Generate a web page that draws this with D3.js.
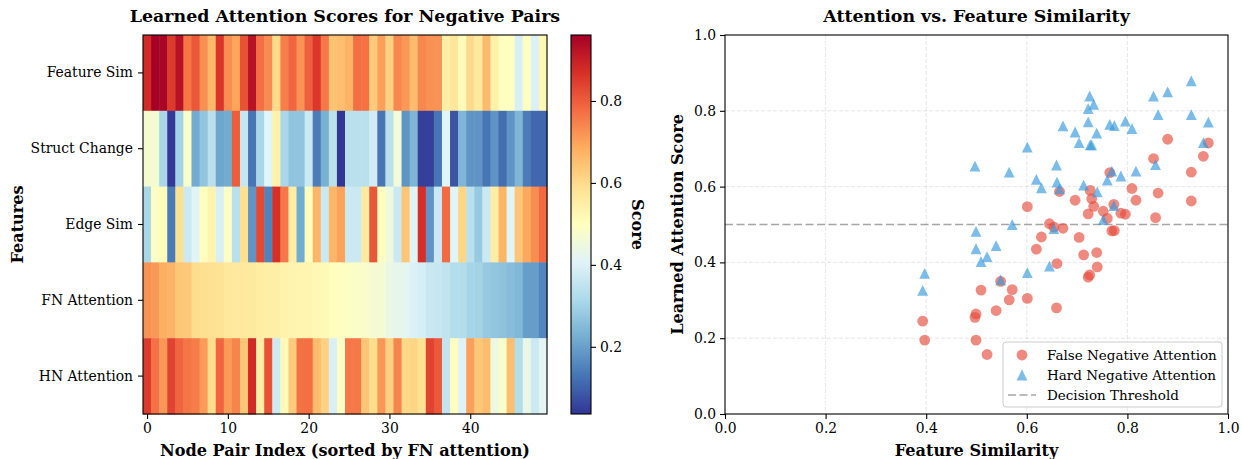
<!DOCTYPE html>
<html lang="en">
<head>
<meta charset="UTF-8">
<title>Attention scores</title>
<script src="https://cdn.jsdelivr.net/npm/d3@7"></script>
<style>
    body { margin: 0; background: #ffffff; }
    svg text { font-family: "DejaVu Serif", serif; fill: #000; }
    .tick text { font-size: 13.9px; font-family: "DejaVu Serif", serif; }
    .tick line, .domain { stroke: #000; stroke-width: 1.1px; }
</style>
</head>
<body>
<div id="chart"></div>
<script>
    var WIDTH = 1242;
    var HEIGHT = 459;

    // heatmap rows (top to bottom)
    var FEATURES = ["Feature Sim", "Struct Change", "Edge Sim", "FN Attention", "HN Attention"];

    // node pairs, already sorted by FN attention (descending)
    var featureSim = [0.880, 0.961, 0.951, 0.852, 0.927, 0.765, 0.809, 0.726, 0.665, 0.861,
                      0.729, 0.696, 0.817, 0.927, 0.773, 0.733, 0.601, 0.752, 0.787, 0.722,
                      0.796, 0.856, 0.760, 0.645, 0.654, 0.672, 0.774, 0.769, 0.629, 0.704,
                      0.619, 0.739, 0.713, 0.660, 0.740, 0.725, 0.722, 0.548, 0.571, 0.509,
                      0.601, 0.565, 0.659, 0.539, 0.499, 0.497, 0.393, 0.499, 0.397, 0.521];
    var structChange = [0.47, 0.47, 0.31, 0.04, 0.30, 0.48, 0.22, 0.27, 0.34, 0.21,
                        0.22, 0.80, 0.36, 0.13, 0.31, 0.41, 0.54, 0.31, 0.27, 0.27,
                        0.37, 0.14, 0.23, 0.34, 0.036, 0.34, 0.34, 0.34, 0.38, 0.13,
                        0.34, 0.46, 0.18, 0.24, 0.05, 0.05, 0.13, 0.41, 0.08, 0.24,
                        0.18, 0.18, 0.13, 0.18, 0.12, 0.18, 0.24, 0.14, 0.11, 0.11];
    var edgeSim = [0.31, 0.49, 0.51, 0.14, 0.59, 0.37, 0.41, 0.50, 0.53, 0.39,
                   0.49, 0.34, 0.59, 0.18, 0.83, 0.15, 0.87, 0.76, 0.55, 0.22,
                   0.50, 0.67, 0.37, 0.67, 0.70, 0.37, 0.37, 0.56, 0.81, 0.50,
                   0.45, 0.37, 0.64, 0.41, 0.87, 0.18, 0.37, 0.78, 0.41, 0.61,
                   0.34, 0.28, 0.37, 0.55, 0.67, 0.41, 0.64, 0.69, 0.73, 0.78];
    var fnAttention = [0.725, 0.715, 0.680, 0.674, 0.638, 0.637, 0.595, 0.590, 0.587, 0.583,
                       0.568, 0.564, 0.564, 0.562, 0.553, 0.548, 0.547, 0.535, 0.530, 0.528,
                       0.527, 0.518, 0.516, 0.502, 0.493, 0.490, 0.484, 0.483, 0.467, 0.466,
                       0.435, 0.426, 0.420, 0.397, 0.388, 0.367, 0.361, 0.350, 0.328, 0.327,
                       0.305, 0.301, 0.280, 0.273, 0.264, 0.255, 0.245, 0.195, 0.195, 0.157];
    var hnAttention = [0.850, 0.770, 0.716, 0.839, 0.790, 0.764, 0.753, 0.710, 0.594, 0.790,
                       0.710, 0.744, 0.641, 0.879, 0.550, 0.817, 0.373, 0.513, 0.628, 0.771,
                       0.773, 0.658, 0.617, 0.390, 0.489, 0.760, 0.761, 0.641, 0.597, 0.716,
                       0.619, 0.741, 0.604, 0.612, 0.586, 0.839, 0.806, 0.354, 0.500, 0.402,
                       0.704, 0.638, 0.657, 0.444, 0.482, 0.654, 0.326, 0.436, 0.371, 0.415];

    var X_TICKS = [0, 10, 20, 30, 40];
    var CBAR_TICKS = [0.2, 0.4, 0.6, 0.8];
    var SCATTER_TICKS = [0, 0.2, 0.4, 0.6, 0.8, 1.0];
    var THRESHOLD = 0.5;

    // RdYlBu reversed (matplotlib's 11 anchor colours)
    var RDYLBU_R = ["#313695", "#4575b4", "#74add1", "#abd9e9", "#e0f3f8", "#ffffbf",
                    "#fee090", "#fdae61", "#f46d43", "#d73027", "#a50026"];

    var RED = "#e74c3c";
    var BLUE = "#3498db";
    var MARKER_OPACITY = 0.65;

    var TITLE_SIZE = "17.4px";
    var LABEL_SIZE = "16.1px";

    var HEAT = {left: 143, right: 547, top: 35, bottom: 414};
    var CBAR = {left: 571, right: 591};
    var SCAT = {left: 725, right: 1228, top: 35, bottom: 414};

    var svg = d3.select("#chart").append("svg")
        .attr("width", WIDTH)
        .attr("height", HEIGHT);

    var rows = [featureSim, structChange, edgeSim, fnAttention, hnAttention];
    var allValues = d3.merge(rows);
    var extent = d3.extent(allValues);

    var colorScale = d3.scaleLinear()
        .domain(RDYLBU_R.map(function(c, i) {
            return extent[0] + (extent[1] - extent[0]) * i / (RDYLBU_R.length - 1);
        }))
        .range(RDYLBU_R)
        .interpolate(d3.interpolateRgb)
        .clamp(true);

    // ---------- heatmap ----------
    var nCols = featureSim.length;
    var xBand = d3.scaleBand().domain(d3.range(nCols)).range([HEAT.left, HEAT.right]);
    var yBand = d3.scaleBand().domain(FEATURES).range([HEAT.top, HEAT.bottom]);

    var heat = svg.append("g");
    rows.forEach(function(values, r) {
        heat.selectAll(null)
            .data(values)
            .enter().append("rect")
            .attr("x", function(d, i) { return xBand(i); })
            .attr("y", yBand(FEATURES[r]))
            .attr("width", xBand.bandwidth() + 0.5)
            .attr("height", yBand.bandwidth() + 0.5)
            .attr("fill", function(d) { return colorScale(d); });
    });

    heat.append("rect")
        .attr("x", HEAT.left).attr("y", HEAT.top)
        .attr("width", HEAT.right - HEAT.left).attr("height", HEAT.bottom - HEAT.top)
        .attr("fill", "none").attr("stroke", "#000").attr("stroke-width", 1.1);

    var xIdx = d3.scaleLinear().domain([-0.5, nCols - 0.5]).range([HEAT.left, HEAT.right]);
    svg.append("g")
        .attr("transform", "translate(0," + HEAT.bottom + ")")
        .call(d3.axisBottom(xIdx).tickValues(X_TICKS).tickSize(5).tickPadding(4).tickFormat(d3.format("d")))
        .call(function(g) { g.select(".domain").remove(); });

    svg.append("g")
        .attr("transform", "translate(" + HEAT.left + ",0)")
        .call(d3.axisLeft(yBand).tickSize(5).tickPadding(5))
        .call(function(g) { g.select(".domain").remove(); });

    svg.append("text")
        .attr("x", (HEAT.left + HEAT.right) / 2).attr("y", 22)
        .attr("text-anchor", "middle")
        .style("font-size", TITLE_SIZE).style("font-weight", "bold")
        .text("Learned Attention Scores for Negative Pairs");

    svg.append("text")
        .attr("x", (HEAT.left + HEAT.right) / 2).attr("y", 456)
        .attr("text-anchor", "middle")
        .style("font-size", LABEL_SIZE).style("font-weight", "bold")
        .text("Node Pair Index (sorted by FN attention)");

    svg.append("text")
        .attr("transform", "translate(23," + (HEAT.top + HEAT.bottom) / 2 + ") rotate(-90)")
        .attr("text-anchor", "middle")
        .style("font-size", LABEL_SIZE).style("font-weight", "bold")
        .text("Features");

    // ---------- colorbar ----------
    var grad = svg.append("defs").append("linearGradient")
        .attr("id", "cbarGrad")
        .attr("x1", 0).attr("y1", 1).attr("x2", 0).attr("y2", 0);
    RDYLBU_R.forEach(function(c, i) {
        grad.append("stop")
            .attr("offset", (i / (RDYLBU_R.length - 1)) * 100 + "%")
            .attr("stop-color", c);
    });

    svg.append("rect")
        .attr("x", CBAR.left).attr("y", HEAT.top)
        .attr("width", CBAR.right - CBAR.left).attr("height", HEAT.bottom - HEAT.top)
        .attr("fill", "url(#cbarGrad)")
        .attr("stroke", "#000").attr("stroke-width", 1.1);

    var cbarScale = d3.scaleLinear().domain(extent).range([HEAT.bottom, HEAT.top]);
    svg.append("g")
        .attr("transform", "translate(" + CBAR.right + ",0)")
        .call(d3.axisRight(cbarScale).tickValues(CBAR_TICKS).tickSize(5).tickPadding(4).tickFormat(d3.format(".1f")))
        .call(function(g) { g.select(".domain").remove(); });

    svg.append("text")
        .attr("transform", "translate(632," + (HEAT.top + HEAT.bottom) / 2 + ") rotate(90)")
        .attr("text-anchor", "middle")
        .style("font-size", LABEL_SIZE).style("font-weight", "bold")
        .text("Score");

    // ---------- scatter ----------
    var xScale = d3.scaleLinear().domain([0, 1]).range([SCAT.left, SCAT.right]);
    var yScale = d3.scaleLinear().domain([0, 1]).range([SCAT.bottom, SCAT.top]);

    var grid = svg.append("g")
        .attr("stroke", "#b0b0b0").attr("stroke-opacity", 0.3)
        .attr("stroke-width", 1).attr("stroke-dasharray", "4,2");
    SCATTER_TICKS.slice(1, -1).forEach(function(t) {
        grid.append("line")
            .attr("x1", xScale(t)).attr("x2", xScale(t))
            .attr("y1", SCAT.top).attr("y2", SCAT.bottom);
        grid.append("line")
            .attr("x1", SCAT.left).attr("x2", SCAT.right)
            .attr("y1", yScale(t)).attr("y2", yScale(t));
    });

    svg.append("line")
        .attr("x1", SCAT.left).attr("x2", SCAT.right)
        .attr("y1", yScale(THRESHOLD)).attr("y2", yScale(THRESHOLD))
        .attr("stroke", "gray").attr("stroke-opacity", 0.7)
        .attr("stroke-width", 1.5).attr("stroke-dasharray", "8,3.5");

    var TRI = 10.8;
    var triPath = "M0," + (-TRI / 2) + "L" + (TRI / 2) + "," + (TRI / 2) + "L" + (-TRI / 2) + "," + (TRI / 2) + "Z";

    svg.append("g").selectAll("circle")
        .data(featureSim)
        .enter().append("circle")
        .attr("cx", function(d) { return xScale(d); })
        .attr("cy", function(d, i) { return yScale(fnAttention[i]); })
        .attr("r", 5.4)
        .attr("fill", RED).attr("fill-opacity", MARKER_OPACITY);

    svg.append("g").selectAll("path")
        .data(featureSim)
        .enter().append("path")
        .attr("d", triPath)
        .attr("transform", function(d, i) {
            return "translate(" + xScale(d) + "," + yScale(hnAttention[i]) + ")";
        })
        .attr("fill", BLUE).attr("fill-opacity", MARKER_OPACITY);

    svg.append("rect")
        .attr("x", SCAT.left).attr("y", SCAT.top)
        .attr("width", SCAT.right - SCAT.left).attr("height", SCAT.bottom - SCAT.top)
        .attr("fill", "none").attr("stroke", "#000").attr("stroke-width", 1.1);

    svg.append("g")
        .attr("transform", "translate(0," + SCAT.bottom + ")")
        .call(d3.axisBottom(xScale).tickValues(SCATTER_TICKS).tickSize(5).tickPadding(4).tickFormat(d3.format(".1f")))
        .call(function(g) { g.select(".domain").remove(); });

    svg.append("g")
        .attr("transform", "translate(" + SCAT.left + ",0)")
        .call(d3.axisLeft(yScale).tickValues(SCATTER_TICKS).tickSize(5).tickPadding(4).tickFormat(d3.format(".1f")))
        .call(function(g) { g.select(".domain").remove(); });

    svg.append("text")
        .attr("x", (SCAT.left + SCAT.right) / 2).attr("y", 22)
        .attr("text-anchor", "middle")
        .style("font-size", TITLE_SIZE).style("font-weight", "bold")
        .text("Attention vs. Feature Similarity");

    svg.append("text")
        .attr("x", (SCAT.left + SCAT.right) / 2).attr("y", 456)
        .attr("text-anchor", "middle")
        .style("font-size", LABEL_SIZE).style("font-weight", "bold")
        .text("Feature Similarity");

    svg.append("text")
        .attr("transform", "translate(683," + (SCAT.top + SCAT.bottom) / 2 + ") rotate(-90)")
        .attr("text-anchor", "middle")
        .style("font-size", LABEL_SIZE).style("font-weight", "bold")
        .text("Learned Attention Score");

    // legend
    var legend = svg.append("g").attr("transform", "translate(1003,342)");
    legend.append("rect")
        .attr("width", 219).attr("height", 65).attr("rx", 3)
        .attr("fill", "#fff").attr("fill-opacity", 0.8)
        .attr("stroke", "#cccccc").attr("stroke-width", 1);

    legend.append("circle")
        .attr("cx", 19).attr("cy", 13).attr("r", 5.4)
        .attr("fill", RED).attr("fill-opacity", MARKER_OPACITY);
    legend.append("path")
        .attr("d", triPath).attr("transform", "translate(19,33)")
        .attr("fill", BLUE).attr("fill-opacity", MARKER_OPACITY);
    legend.append("line")
        .attr("x1", 5).attr("x2", 33).attr("y1", 53).attr("y2", 53)
        .attr("stroke", "gray").attr("stroke-opacity", 0.7)
        .attr("stroke-width", 1.5).attr("stroke-dasharray", "8,3.5");

    ["False Negative Attention", "Hard Negative Attention", "Decision Threshold"].forEach(function(label, i) {
        legend.append("text")
            .attr("x", 44).attr("y", 18 + i * 20)
            .style("font-size", "13.5px")
            .text(label);
    });
</script>
</body>
</html>
